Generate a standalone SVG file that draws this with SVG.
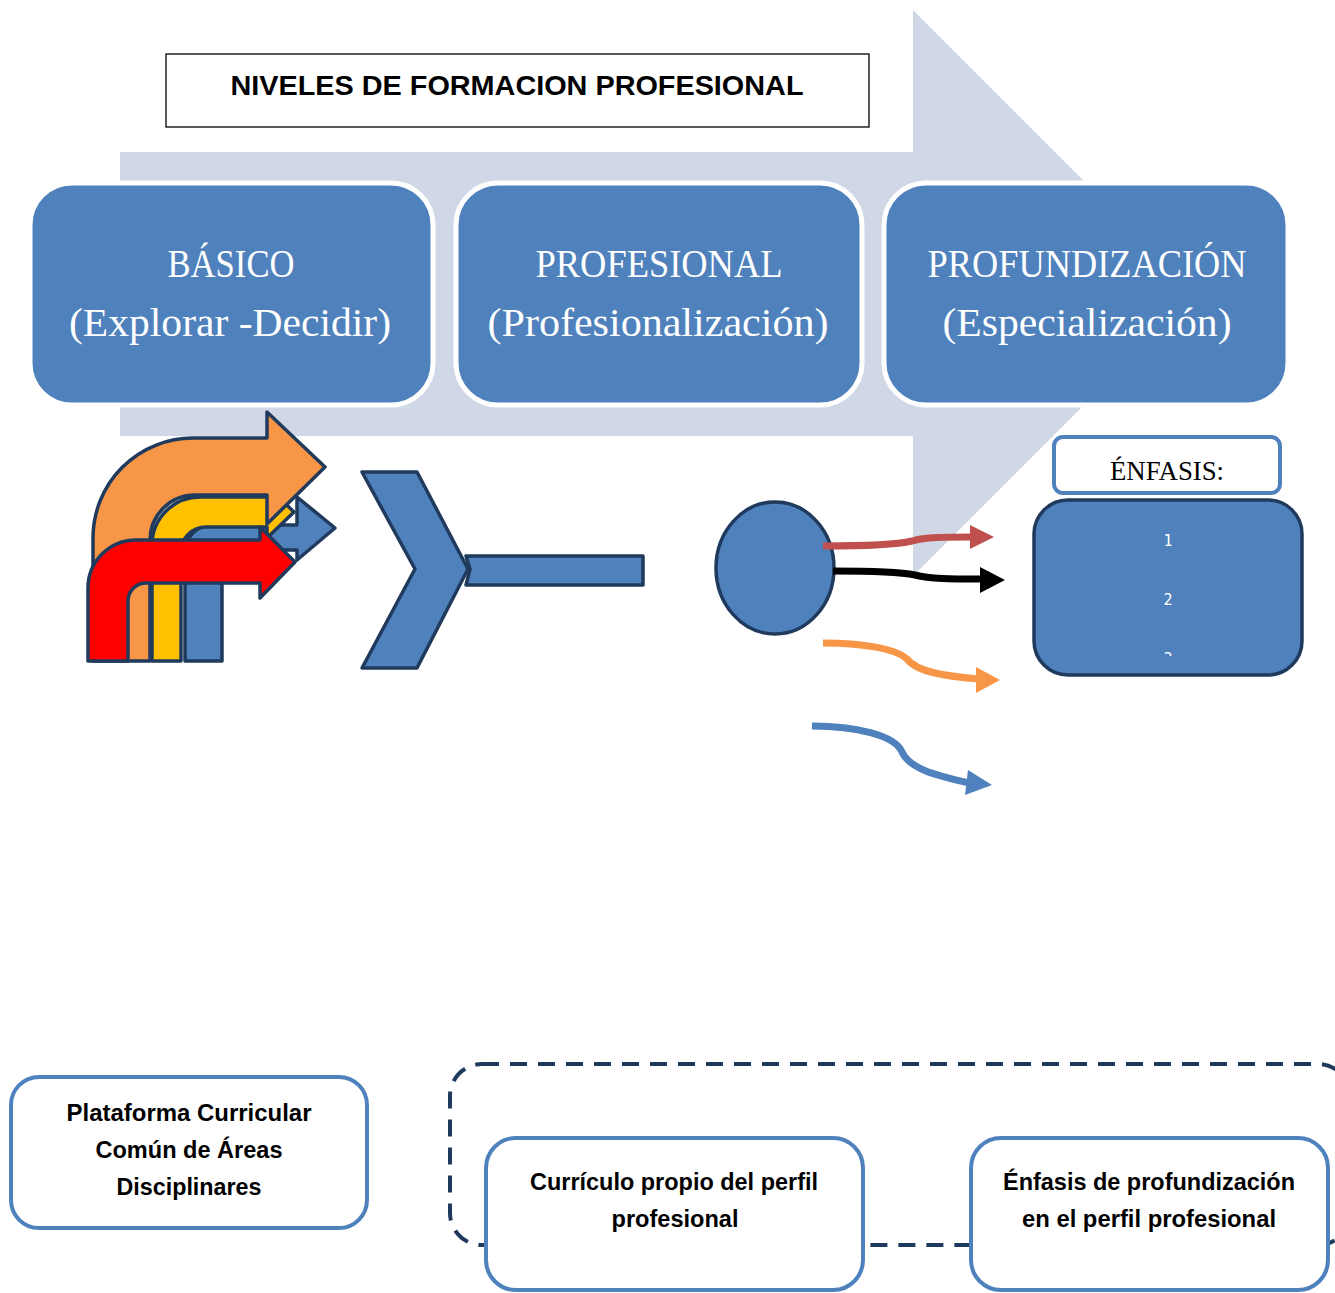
<svg xmlns="http://www.w3.org/2000/svg" width="1335" height="1293" viewBox="0 0 1335 1293">
<defs>
<style>
.lvl{fill:#4F81BD;stroke:#FFFFFF;stroke-width:5}
.lt{font-family:"Liberation Serif","DejaVu Serif",serif;font-size:40px;fill:#FFFFFF;text-anchor:middle}
.nv{stroke:#1F3A5C;stroke-width:3.5;stroke-linejoin:round}
.wb{fill:#FFFFFF;stroke:#4F81BD;stroke-width:4}
.bt{font-family:"Liberation Sans","Arial",sans-serif;font-weight:bold;font-size:23px;fill:#000000;text-anchor:middle}
.num{font-family:"DejaVu Sans Mono","Liberation Mono",monospace;font-size:15px;fill:#FFFFFF;text-anchor:middle}
</style>
<clipPath id="clipNums"><rect x="1040" y="505" width="260" height="151"/></clipPath>
</defs>

<!-- background big arrow -->
<polygon id="bgArrow" points="120,152 913,152 913,10 1196,293 913,576 913,436 120,436" fill="#D0D8E8"/>

<!-- title -->
<g id="title">
<rect x="166" y="54" width="703" height="73" fill="#FFFFFF" stroke="#000000" stroke-width="1.3"/>
<text x="517" y="95" font-family="Liberation Sans, Arial, sans-serif" font-weight="bold" font-size="27" text-anchor="middle" textLength="573" lengthAdjust="spacingAndGlyphs">NIVELES DE FORMACION PROFESIONAL</text>
</g>

<!-- levels -->
<g id="basico">
<rect class="lvl" x="30" y="183" width="403" height="222" rx="42"/>
<text class="lt" x="231" y="277" textLength="127" lengthAdjust="spacingAndGlyphs">BÁSICO</text>
<text class="lt" x="230" y="336" textLength="322" lengthAdjust="spacingAndGlyphs">(Explorar -Decidir)</text>
</g>
<g id="profesional">
<rect class="lvl" x="456" y="183" width="406" height="222" rx="42"/>
<text class="lt" x="659" y="277" textLength="247" lengthAdjust="spacingAndGlyphs">PROFESIONAL</text>
<text class="lt" x="658" y="336" textLength="341" lengthAdjust="spacingAndGlyphs">(Profesionalización)</text>
</g>
<g id="profundizacion">
<rect class="lvl" x="884" y="183" width="404" height="222" rx="42"/>
<text class="lt" x="1087" y="277" textLength="319" lengthAdjust="spacingAndGlyphs">PROFUNDIZACIÓN</text>
<text class="lt" x="1087" y="336" textLength="289" lengthAdjust="spacingAndGlyphs">(Especialización)</text>
</g>

<!-- bent arrows -->
<g id="bentArrows">
<path class="nv" fill="#4F81BD" d="M185,661 L185,552 A 27 27 0 0 1 212,525 L297,525 L297,497 L335,528 L297,560 L297,550 L232,550 A 10 10 0 0 0 222,560 L222,661 Z"/>
<path class="nv" fill="#FFC000" d="M152,661 L152,545 A 48 48 0 0 1 200,497 L267,497 L267,486 L294,512 L267,538 L267,527 L206,527 A 25 25 0 0 0 181,552 L181,661 Z"/>
<path class="nv" fill="#F79646" d="M93,661 L93,538 A 100 100 0 0 1 193,438 L267,438 L267,412 L325,467 L267,524 L267,495 L195,495 A 45 45 0 0 0 150,540 L150,661 Z"/>
<path class="nv" fill="#FF0000" d="M88,661 L88,588 A 48 48 0 0 1 136,540 L260,540 L260,527 L295,562 L260,598 L260,583 L146,583 A 18 18 0 0 0 128,601 L128,661 Z"/>
</g>

<!-- chevron -->
<g id="chevron">
<polygon class="nv" fill="#4F81BD" points="362,472 417,472 468,569 417,668 362,668 415,569"/>
<path class="nv" fill="#4F81BD" d="M466,556 L643,556 L643,585 L466,585 L470,569 Z"/>
</g>

<!-- circle -->
<g id="circle">
<ellipse class="nv" cx="775" cy="568" rx="59" ry="66" fill="#4F81BD"/>
</g>

<!-- connectors -->
<g id="connectors" fill="none">
<path d="M823,546 C870,546 895,545 912,541 C925,537 945,537 972,537" stroke="#C0504D" stroke-width="7"/>
<polygon points="970,525 994,537 970,549" fill="#C0504D"/>
<path d="M833,571 C870,571 900,572 915,575 C930,579 950,579 982,579" stroke="#000000" stroke-width="7"/>
<polygon points="980,567 1005,580 980,593" fill="#000000"/>
<path d="M823,643 C860,643 895,648 907,659 C917,672 945,676 978,679" stroke="#F79646" stroke-width="7"/>
<polygon points="976,667 1000,680 976,693" fill="#F79646"/>
<path d="M812,726 C855,726 895,735 902,752 C910,770 940,776 969,783" stroke="#4F81BD" stroke-width="7"/>
<polygon points="968,770 992,785 965,795" fill="#4F81BD"/>
</g>

<!-- enfasis label -->
<g id="enfasisLabel">
<rect x="1054" y="437" width="226" height="56" rx="9" fill="#FFFFFF" stroke="#4F81BD" stroke-width="4"/>
<text x="1167" y="480" font-family="Liberation Serif, DejaVu Serif, serif" font-size="28" text-anchor="middle" textLength="114" lengthAdjust="spacingAndGlyphs">ÉNFASIS:</text>
</g>

<!-- enfasis box -->
<g id="enfasisBox">
<rect class="nv" x="1034" y="500" width="268" height="175" rx="34" fill="#4F81BD" stroke-width="4"/>
<g clip-path="url(#clipNums)">
<text class="num" x="1168" y="546">1</text>
<text class="num" x="1168" y="605">2</text>
<text class="num" x="1168" y="664">3</text>
</g>
</g>

<!-- bottom dashed group -->
<g id="dashedGroup">
<rect x="450" y="1064" width="900" height="181" rx="32" fill="none" stroke="#1F3A5C" stroke-width="4" stroke-dasharray="17 11"/>
</g>

<g id="plataforma">
<rect class="wb" x="11" y="1077" width="356" height="151" rx="28"/>
<text class="bt" x="189" y="1121" textLength="245" lengthAdjust="spacingAndGlyphs">Plataforma Curricular</text>
<text class="bt" x="189" y="1158" textLength="187" lengthAdjust="spacingAndGlyphs">Común de Áreas</text>
<text class="bt" x="189" y="1195" textLength="145" lengthAdjust="spacingAndGlyphs">Disciplinares</text>
</g>

<g id="curriculo">
<rect class="wb" x="486" y="1138" width="377" height="152" rx="30"/>
<text class="bt" x="674" y="1190" textLength="288" lengthAdjust="spacingAndGlyphs">Currículo propio del perfil</text>
<text class="bt" x="675" y="1227" textLength="127" lengthAdjust="spacingAndGlyphs">profesional</text>
</g>

<g id="enfasisProf">
<rect class="wb" x="971" y="1138" width="357" height="152" rx="30"/>
<text class="bt" x="1149" y="1190" textLength="292" lengthAdjust="spacingAndGlyphs">Énfasis de profundización</text>
<text class="bt" x="1149" y="1227" textLength="254" lengthAdjust="spacingAndGlyphs">en el perfil profesional</text>
</g>
</svg>
